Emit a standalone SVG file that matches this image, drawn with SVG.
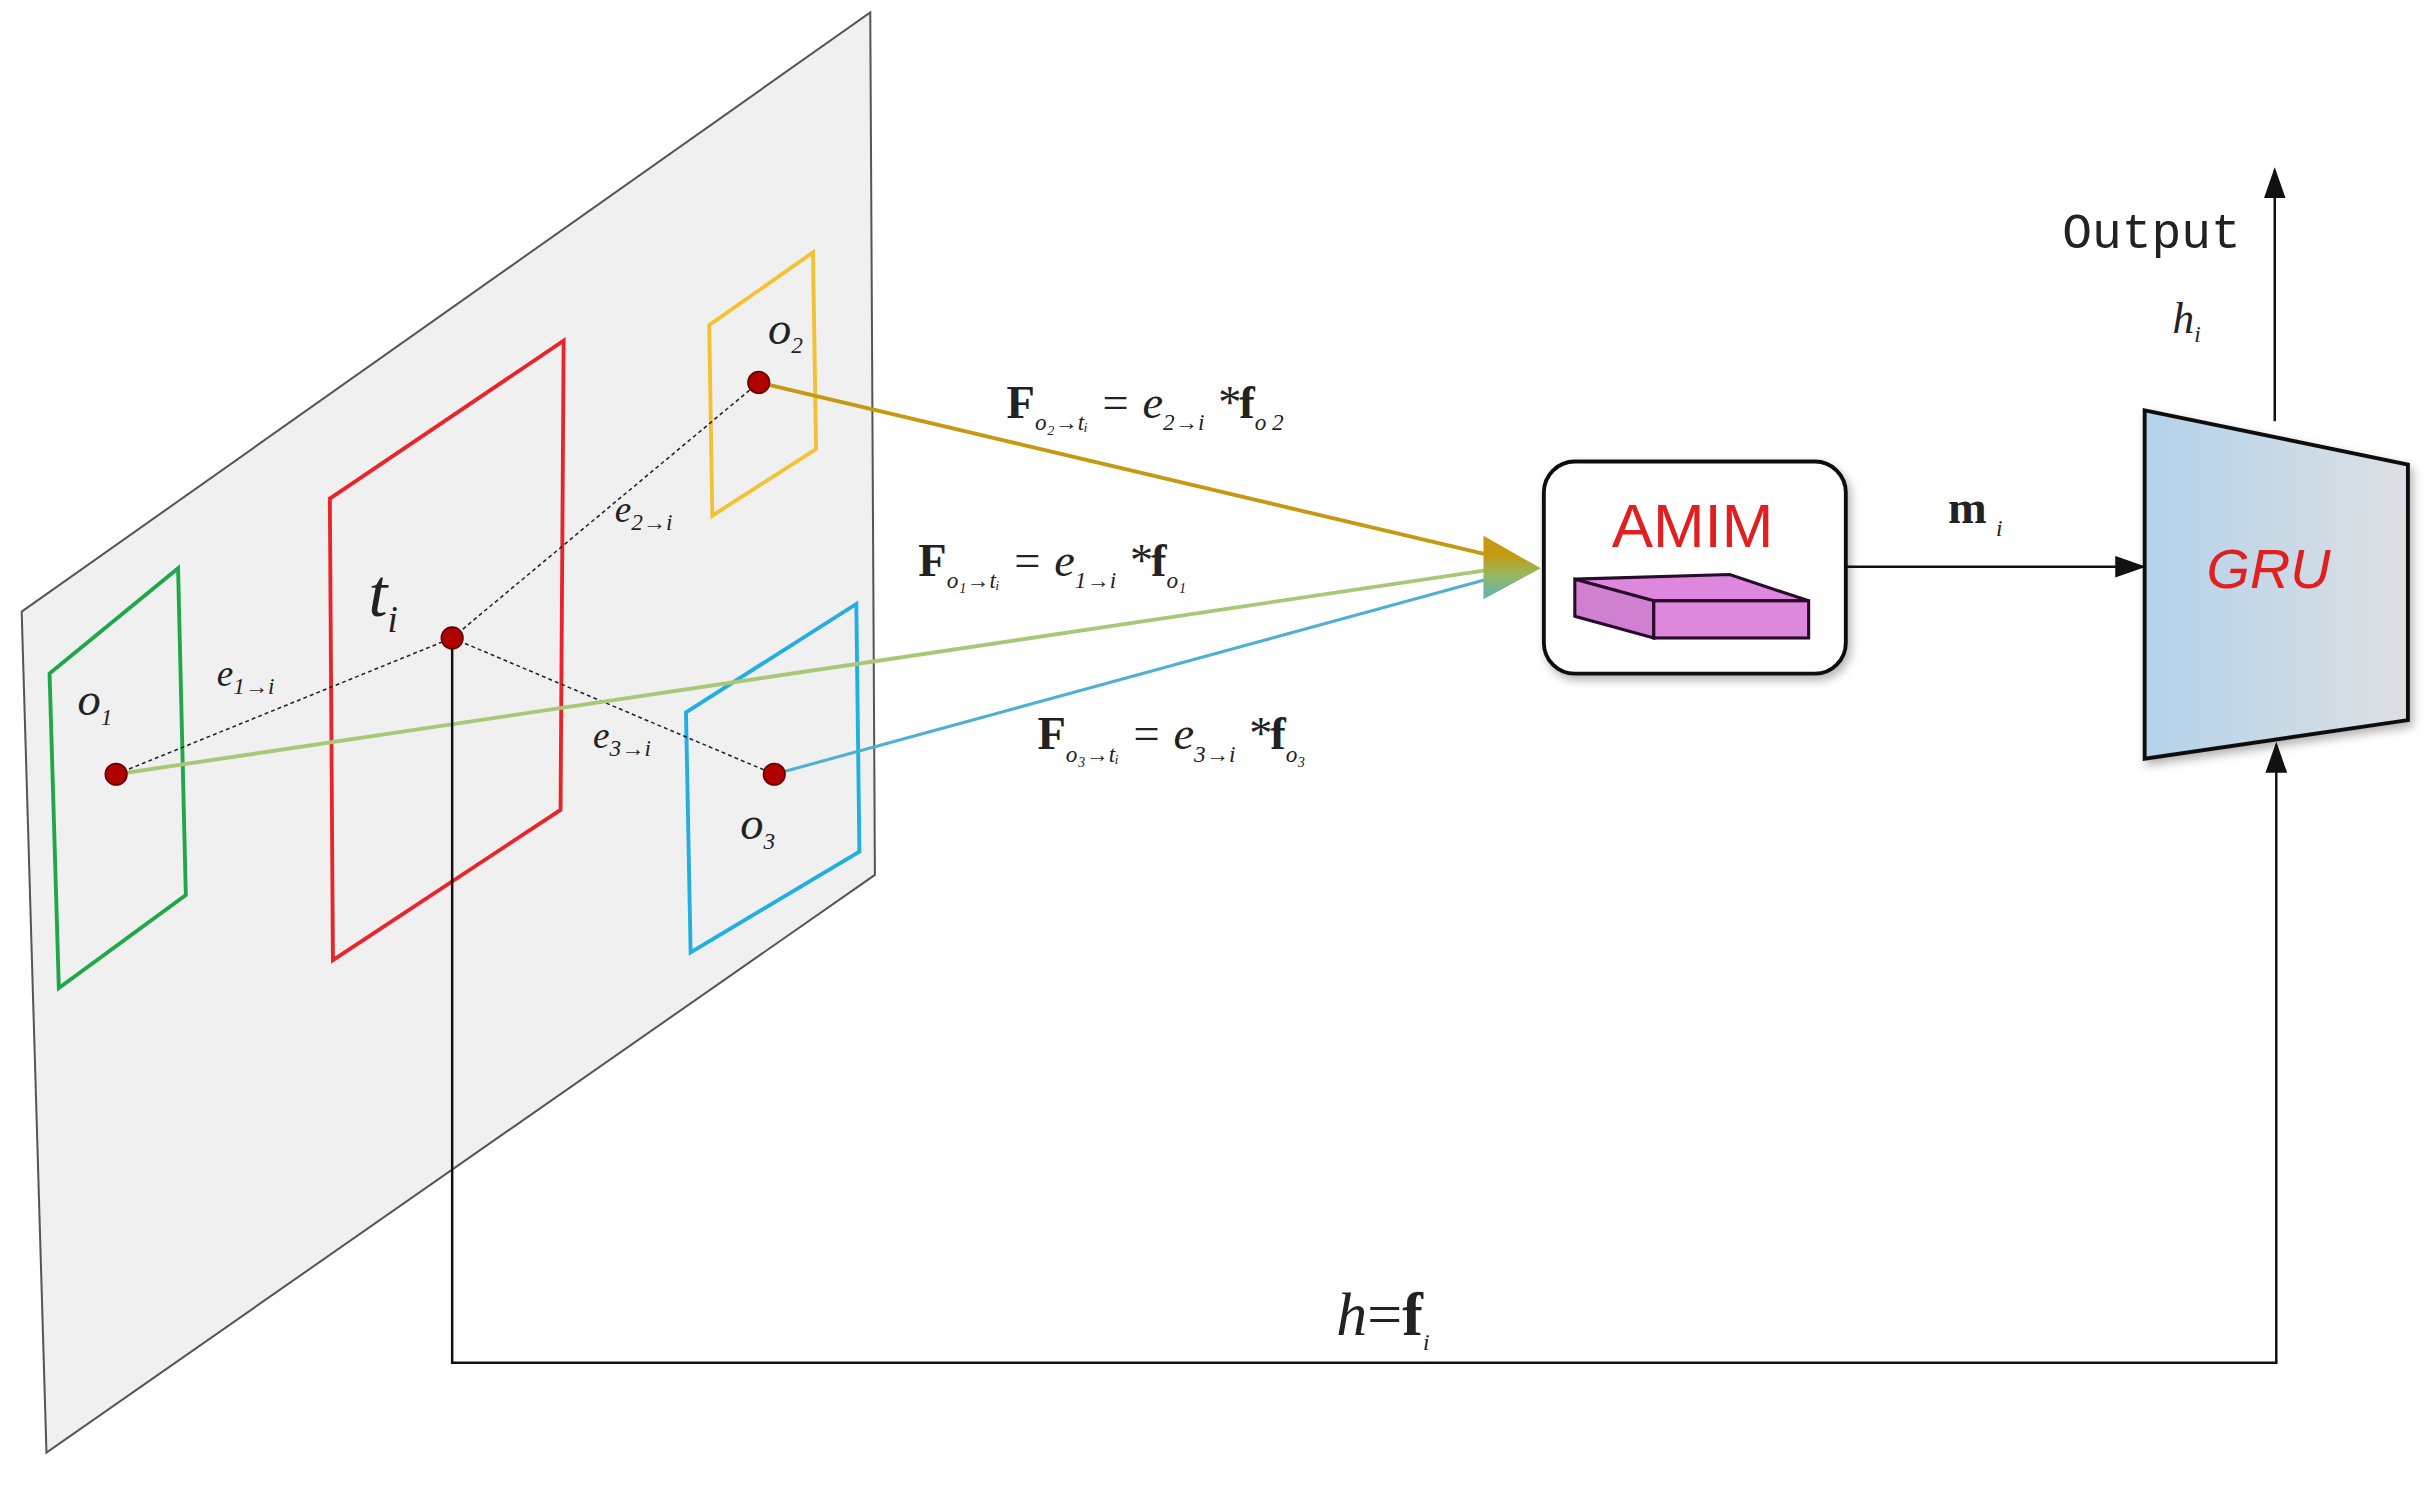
<svg xmlns="http://www.w3.org/2000/svg" width="2428" height="1504" viewBox="0 0 2428 1504">
<style>
.m{font-family:"Liberation Serif",serif;font-style:italic;fill:#222}
.b{font-family:"Liberation Serif",serif;font-weight:bold;fill:#222}
.s{font-size:15px}
.box{fill:none;stroke-width:2.5}
.dot{fill:#b00000;stroke:#600;stroke-width:1}
.dash{stroke:#222;stroke-width:1;stroke-dasharray:2.5 2;fill:none}
.blk{stroke:#111;fill:none;stroke-width:1.6}
</style>
<defs>
<marker id="ah" viewBox="0 0 10 10" refX="9" refY="5" markerWidth="20" markerHeight="14" markerUnits="userSpaceOnUse" orient="auto" preserveAspectRatio="none"><path d="M0,0 L10,5 L0,10z" fill="#111"/></marker>
<linearGradient id="gru" x1="0" x2="1" y1="0" y2="0"><stop offset="0" stop-color="#b3d2ea"/><stop offset="1" stop-color="#dde0e3"/></linearGradient>
<linearGradient id="tip" x1="0" x2="0" y1="0" y2="1"><stop offset="0.3" stop-color="#c49a10"/><stop offset="0.6" stop-color="#98b85a"/><stop offset="1" stop-color="#5ab0c0"/></linearGradient>
<filter id="sh" x="-20%" y="-20%" width="140%" height="140%"><feDropShadow dx="2" dy="3" stdDeviation="3" flood-opacity="0.3"/></filter>
</defs>
<rect width="2428" height="1504" fill="#fff"/>
<g transform="scale(1.5485)">
<g id="panel">
<polygon points="14,395 562,8 565,565 30,938" fill="#f0f0f0" stroke="#555" stroke-width="1.3"/>
</g>
<g id="o1box"><polygon class="box" stroke="#1fa84a" points="32,435 115,367 120,578 38,638"/></g>
<g id="tibox"><polygon class="box" stroke="#e8262a" points="213,322 364,220 362,523 215,620"/></g>
<g id="o2box"><polygon class="box" stroke="#f2c230" points="458,210 525,163 527,290 460,333"/></g>
<g id="o3box"><polygon class="box" stroke="#22aee0" points="443,460 553,390 555,550 446,615"/></g>
<g id="connectors">
<line class="dash" x1="75" y1="500" x2="292" y2="412"/>
<line class="dash" x1="292" y1="412" x2="490" y2="247"/>
<line class="dash" x1="292" y1="412" x2="500" y2="500"/>
<line x1="490" y1="247" x2="968" y2="360" stroke="#c49a10" stroke-width="2.5"/>
<line x1="75" y1="500" x2="968" y2="367" stroke="#a8c878" stroke-width="2.5"/>
<line x1="500" y1="500" x2="968" y2="372" stroke="#4fb0d0" stroke-width="2"/>
<polygon points="958,346 995,367 958,387" fill="url(#tip)"/>
<line class="blk" x1="1192" y1="366" x2="1384" y2="366" marker-end="url(#ah)"/>
<line class="blk" x1="1469" y1="272" x2="1469" y2="110" marker-end="url(#ah)"/>
<polyline class="blk" points="292,412 292,880 1470,880 1470,481" marker-end="url(#ah)"/>
</g>
<g id="dots">
<circle class="dot" cx="75" cy="500" r="7"/><circle class="dot" cx="292" cy="412" r="7"/>
<circle class="dot" cx="490" cy="247" r="7"/><circle class="dot" cx="500" cy="500" r="7"/>
</g>
<g id="labels">
<text class="m" x="50" y="462" font-size="30">o<tspan class="s" dy="6">1</tspan></text>
<text class="m" x="238" y="398" font-size="44">t<tspan font-size="24" dy="10">i</tspan></text>
<text class="m" x="496" y="222" font-size="30">o<tspan class="s" dy="6">2</tspan></text>
<text class="m" x="478" y="542" font-size="30">o<tspan class="s" dy="6">3</tspan></text>
<text class="m" x="140" y="443" font-size="24">e<tspan class="s" dy="5">1→i</tspan></text>
<text class="m" x="397" y="337" font-size="24">e<tspan class="s" dy="5">2→i</tspan></text>
<text class="m" x="383" y="483" font-size="24">e<tspan class="s" dy="5">3→i</tspan></text>
<text x="650" y="270" font-size="30"><tspan class="b">F</tspan><tspan class="m s" dy="8">o₂→tᵢ</tspan><tspan class="m" dy="-8" font-style="normal"> = </tspan><tspan class="m">e</tspan><tspan class="m s" dy="8">2→i</tspan><tspan class="m" dy="-8" font-style="normal"> *</tspan><tspan class="b">f</tspan><tspan class="m s" dy="8">o 2</tspan></text>
<text x="593" y="372" font-size="30"><tspan class="b">F</tspan><tspan class="m s" dy="8">o₁→tᵢ</tspan><tspan class="m" dy="-8" font-style="normal"> = </tspan><tspan class="m">e</tspan><tspan class="m s" dy="8">1→i</tspan><tspan class="m" dy="-8" font-style="normal"> *</tspan><tspan class="b">f</tspan><tspan class="m s" dy="8">o₁</tspan></text>
<text x="670" y="484" font-size="30"><tspan class="b">F</tspan><tspan class="m s" dy="8">o₃→tᵢ</tspan><tspan class="m" dy="-8" font-style="normal"> = </tspan><tspan class="m">e</tspan><tspan class="m s" dy="8">3→i</tspan><tspan class="m" dy="-8" font-style="normal"> *</tspan><tspan class="b">f</tspan><tspan class="m s" dy="8">o₃</tspan></text>
<text x="1258" y="338" font-size="30"><tspan class="b">m</tspan><tspan class="m s" dx="6" dy="8">i</tspan></text>
<text x="1447" y="160" font-size="32" text-anchor="end" font-family="Liberation Mono,monospace" fill="#222">Output</text>
<text class="m" x="1403" y="215" font-size="28">h<tspan class="s" dy="6">i</tspan></text>
<text x="863" y="862" font-size="40"><tspan class="m">h</tspan><tspan font-family="Liberation Serif,serif" fill="#222">=</tspan><tspan class="b">f</tspan><tspan class="m s" dy="10">i</tspan></text>
</g>
<g id="amim">
<rect x="997" y="298" width="195" height="137" rx="20" fill="#fff" stroke="#111" stroke-width="2.5" filter="url(#sh)"/>
<text x="1093" y="353" font-size="40" text-anchor="middle" font-family="Liberation Sans,sans-serif" fill="#e02020">AMIM</text>
<polygon points="1017,374 1117,371 1168,388 1068,388" fill="#dd88dd" stroke="#2a0a2a" stroke-width="2"/>
<polygon points="1017,374 1068,388 1068,412 1017,398" fill="#d080d0" stroke="#2a0a2a" stroke-width="2"/>
<rect x="1068" y="388" width="100" height="24" fill="#dd88dd" stroke="#2a0a2a" stroke-width="2"/>
</g>
<g id="gru">
<polygon points="1385,265 1555,300 1555,465 1385,490" fill="url(#gru)" stroke="#111" stroke-width="2.5" filter="url(#sh)"/>
<text x="1465" y="380" font-size="36" text-anchor="middle" font-style="italic" font-family="Liberation Sans,sans-serif" fill="#e02020">GRU</text>
</g>
</g>
</svg>
